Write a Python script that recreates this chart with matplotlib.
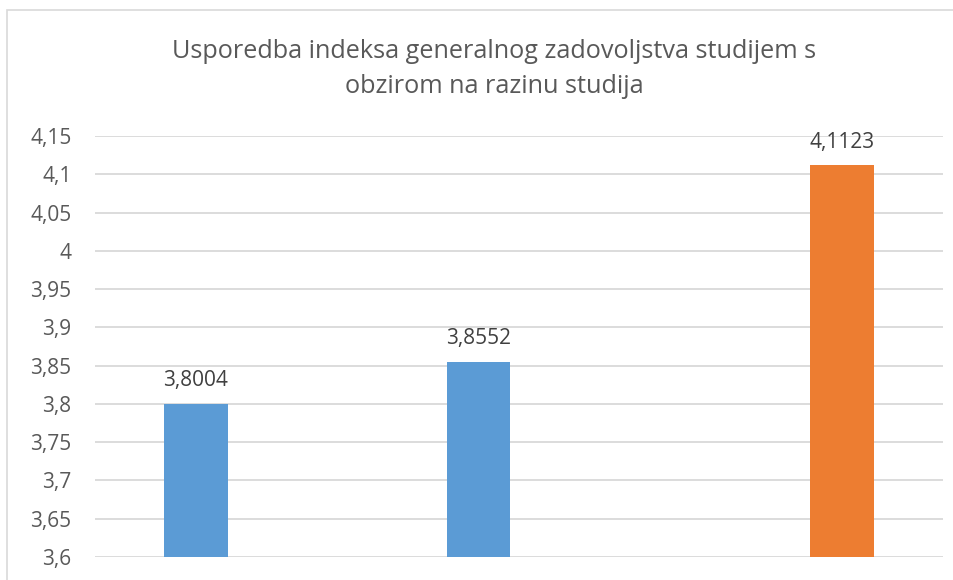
import numpy as np
import matplotlib
matplotlib.use("Agg")
import matplotlib.pyplot as plt
from matplotlib.patches import Rectangle

title = "Usporedba indeksa generalnog zadovoljstva studijem s\nobzirom na razinu studija"
categories = ["", "", ""]
blue_values = [3.8004, 3.8552, np.nan]
orange_values = [np.nan, np.nan, 4.1123]
y_ticks = [3.6, 3.65, 3.7, 3.75, 3.8, 3.85, 3.9, 3.95, 4.0, 4.05, 4.1, 4.15]
y_tick_labels = ["3,6", "3,65", "3,7", "3,75", "3,8", "3,85", "3,9", "3,95", "4", "4,05", "4,1", "4,15"]

blue = "#5b9bd5"
orange = "#ed7d31"
grid_grey = "#d9d9d9"
text_grey = "#595959"

plt.rcParams['font.family'] = ["Open Sans", "DejaVu Sans"]

fig = plt.figure(figsize=(9.54, 5.8), dpi=100)
ax = fig.add_axes([95 / 954, 23 / 580, 848 / 954, 421 / 580])

x = np.arange(len(categories))
width = 0.224
offset = 0.143

def label_fmt(v):
    return f"{v:.4f}".replace(".", ",")

for vals, color, sign in [(blue_values, blue, -1), (orange_values, orange, 1)]:
    for xi, v in zip(x, vals):
        if np.isnan(v):
            continue
        ax.bar(xi + sign * offset, v - 3.6, bottom=3.6, width=width, color=color, zorder=3)
        ax.text(xi + sign * offset, v + 0.016, label_fmt(v), ha="center", va="bottom",
                fontsize=15, color="#404040")

ax.set_xlim(-0.5, len(categories) - 0.5)
ax.set_ylim(3.6, 4.15)
ax.set_yticks(y_ticks)
ax.set_yticklabels(y_tick_labels, fontsize=15, color=text_grey)
ax.set_xticks([])
ax.tick_params(axis="y", length=0, pad=17)
ax.yaxis.grid(True, color=grid_grey, linewidth=1.3, zorder=0)
for s in ax.spines.values():
    s.set_visible(False)

fig.text(494 / 954, 1 - 69 / 580, title, ha="center", va="center", fontsize=18.2,
         color=text_grey, linespacing=1.5)

fig.patches.append(Rectangle((7 / 954, -0.1), 1.2, 1 - 10 / 580 + 0.1,
                             transform=fig.transFigure, fill=False,
                             edgecolor=grid_grey, linewidth=1.2))

fig.savefig("out.png", dpi=100, facecolor="white")
